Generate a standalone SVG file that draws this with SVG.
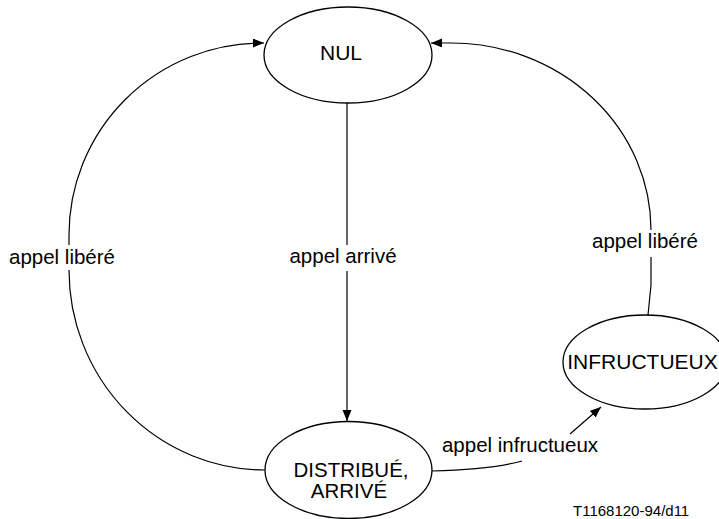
<svg xmlns="http://www.w3.org/2000/svg" width="719" height="519" viewBox="0 0 719 519">
  <style>
    .node { fill: #ffffff; stroke: #000000; stroke-width: 1.3; }
    .conn { fill: none; stroke: #000000; stroke-width: 1.2; }
    .lbl { font-family: "Liberation Sans", Arial, Helvetica, sans-serif; font-size: 20.5px; fill: #000000; text-anchor: middle; }
    .nlbl { font-family: "Liberation Sans", Arial, Helvetica, sans-serif; font-size: 21px; fill: #000000; text-anchor: middle; }
    .mask { fill: #ffffff; stroke: none; }
    .ref { font-family: "Liberation Sans", Arial, Helvetica, sans-serif; font-size: 15px; fill: #000000; }
  </style>
  <defs>
    <marker id="arrow" markerUnits="userSpaceOnUse" markerWidth="12" markerHeight="10" refX="11" refY="4.5" orient="auto">
      <path d="M0,0 L11,4.5 L0,9 Z" fill="#000000"/>
    </marker>
  </defs>
  <rect x="0" y="0" width="719" height="519" fill="#ffffff"/>

  <g id="connectors">
    <path id="c-nul-distribue" class="conn" d="M347,103 L347,421" marker-end="url(#arrow)"/>
    <path id="c-distribue-nul" class="conn" d="M265,470 A196,200 0 0 1 69,270 L69,235 A193,192 0 0 1 262,43 L264,43" marker-end="url(#arrow)"/>
    <path id="c-infructueux-nul" class="conn" d="M648,315 L651,285 L651,230 A200,187 0 0 0 451,43 L431,43" marker-end="url(#arrow)"/>
    <path id="c-distribue-infructueux" class="conn" d="M432,471 C470,470 500,467 522,461 M570,434 L601,407" marker-end="url(#arrow)"/>
  </g>

  <g id="labels">
    <rect class="mask" x="288" y="245" width="110" height="26"/>
    <text class="lbl" x="343" y="263">appel arrivé</text>
    <rect class="mask" x="7" y="245" width="110" height="25"/>
    <text class="lbl" x="62" y="264">appel libéré</text>
    <rect class="mask" x="590" y="230" width="110" height="27"/>
    <text class="lbl" x="645" y="248">appel libéré</text>
    <text class="lbl" x="520" y="452">appel infructueux</text>
  </g>

  <g id="node-nul">
    <ellipse class="node" cx="348" cy="55" rx="84" ry="48"/>
    <text class="nlbl" x="341" y="60">NUL</text>
  </g>

  <g id="node-distribue">
    <ellipse class="node" cx="348.5" cy="470" rx="83.5" ry="48.5"/>
    <text class="lbl" x="351" y="477">DISTRIBUÉ,</text>
    <text class="lbl" x="349" y="498">ARRIVÉ</text>
  </g>

  <g id="node-infructueux">
    <ellipse class="node" cx="645" cy="362" rx="82" ry="47"/>
    <text class="nlbl" x="642.5" y="369">INFRUCTUEUX</text>
  </g>

  <text class="ref" x="573" y="516">T1168120-94/d11</text>
</svg>
